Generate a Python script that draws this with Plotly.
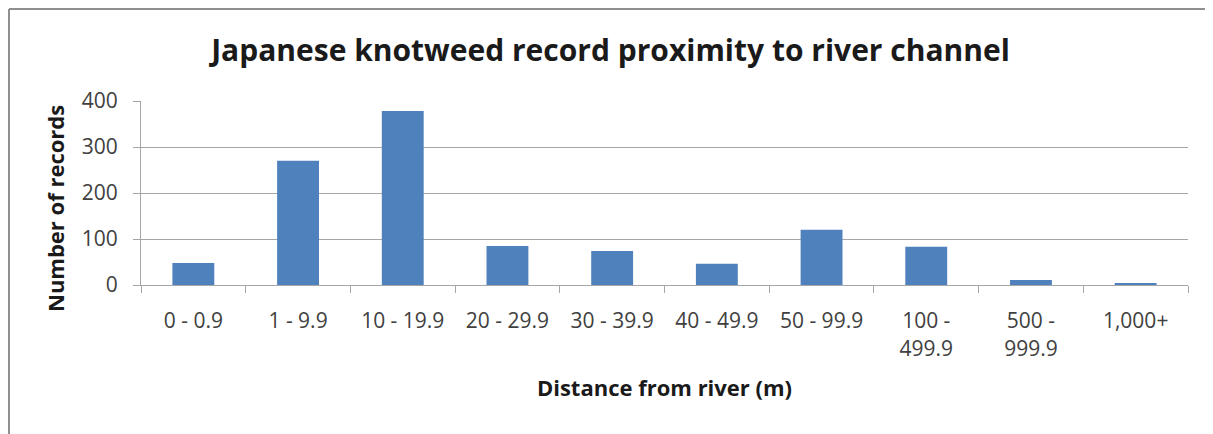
import plotly.graph_objects as go

categories = ["0 - 0.9", "1 - 9.9", "10 - 19.9", "20 - 29.9", "30 - 39.9",
              "40 - 49.9", "50 - 99.9", "100 -<br>499.9", "500 -<br>999.9", "1,000+"]
records = [48, 270, 378, 85, 74, 46, 120, 83, 11, 4]
y_ticks = [0, 100, 200, 300, 400]

FONT = "Open Sans"
TXT = "#404040"
GRID = "#a6a6a6"
W, H = 1205, 426
L, T, R, B = 133, 93, 25, 149
PW, PH = W - L - R, H - T - B

fig = go.Figure(go.Bar(x=categories, y=records, marker=dict(color="#4f81bd", line=dict(width=0))))

fig.update_layout(
    width=W, height=H,
    margin=dict(l=L, r=R, t=T, b=B),
    paper_bgcolor="white", plot_bgcolor="white",
    bargap=0.6,
    showlegend=False,
    title=dict(text="<b>Japanese knotweed record proximity to river channel</b>",
               x=0.5, xanchor="center", y=1 - 42 / H, yanchor="middle",
               font=dict(family=FONT, size=30, color="#1a1a1a")),
    font=dict(family=FONT, color=TXT),
)
fig.update_xaxes(
    type="category", showgrid=False, showline=True, linecolor=GRID, linewidth=1,
    ticks="outside", tickson="boundaries", ticklen=7, tickcolor=GRID,
    tickfont=dict(family=FONT, size=21, color=TXT), ticklabelstandoff=17,
    title=dict(text="<b>Distance from river (m)</b>", standoff=20,
               font=dict(family=FONT, size=22, color="#1a1a1a")),
)
fig.update_yaxes(
    range=[0, 400], tickvals=y_ticks, showgrid=True, gridcolor=GRID, gridwidth=1,
    showline=True, linecolor=GRID, linewidth=1, zeroline=False,
    ticks="outside", ticklen=7, tickcolor=GRID,
    tickfont=dict(family=FONT, size=21, color=TXT), ticklabelstandoff=11,
)
# y-axis title placed as an annotation (centred lower than the plot area, as in the reference)
fig.add_annotation(text="<b>Number of records</b>", textangle=-90, showarrow=False,
                   xref="paper", yref="paper",
                   x=(47 - L) / PW, y=1 - (201 - T) / PH, xanchor="center", yanchor="middle",
                   font=dict(family=FONT, size=22, color="#1a1a1a"))
# outer chart border (top and left edges visible in the reference)
fig.add_shape(type="line", xref="paper", yref="paper",
              x0=(1 - L) / PW, x1=2, y0=1 + (T - 1) / PH, y1=1 + (T - 1) / PH,
              line=dict(color="#8f8f8f", width=2))
fig.add_shape(type="line", xref="paper", yref="paper",
              x0=(1 - L) / PW, x1=(1 - L) / PW, y0=1 + (T - 1) / PH, y1=-2,
              line=dict(color="#8f8f8f", width=2))

fig.write_html("out.html")
